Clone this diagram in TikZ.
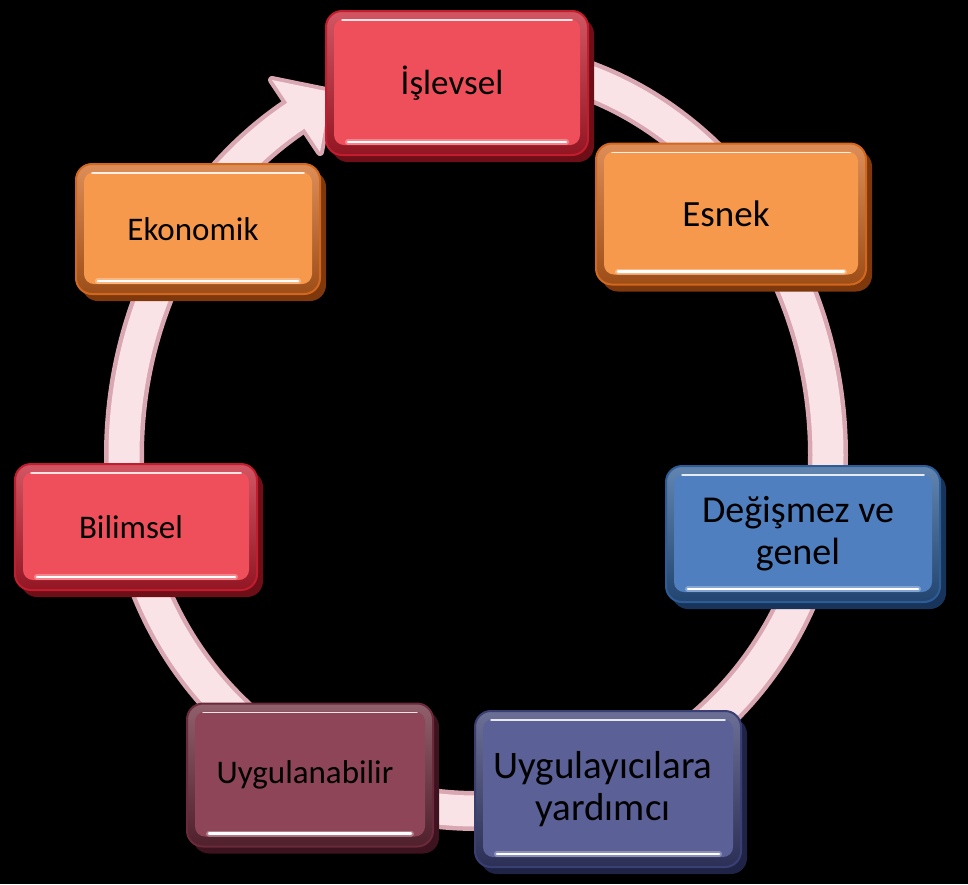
\documentclass[tikz,border=0pt]{standalone}
\usepackage{fontspec}
\setmainfont{Carlito}
\definecolor{ringedge}{HTML}{D9A7B1}
\definecolor{ringface}{HTML}{FAE3E6}
\definecolor{redface}{HTML}{EF4F5A}
\definecolor{rededge}{HTML}{C21D2E}
\definecolor{reddark}{HTML}{6E0E16}
\definecolor{orgface}{HTML}{F7994C}
\definecolor{orgedge}{HTML}{D2671F}
\definecolor{orgdark}{HTML}{7E380C}
\definecolor{bluface}{HTML}{4F7FBE}
\definecolor{bluedge}{HTML}{2E5C96}
\definecolor{bludark}{HTML}{18345A}
\definecolor{mauface}{HTML}{8D4557}
\definecolor{mauedge}{HTML}{6A2A3B}
\definecolor{maudark}{HTML}{3C131E}
\definecolor{navface}{HTML}{5B6197}
\definecolor{navedge}{HTML}{3A3F73}
\definecolor{navdark}{HTML}{1F2346}
\tikzset{
  boxbase/.style={rounded corners=16pt, line width=2pt, inner sep=0pt, outer sep=0pt},
  boxtext/.style={align=center, text=black, inner sep=0pt}
}
\newcommand\bevbox[8]{%
  \fill[#6dark, rounded corners=16pt] ({#2-#4/2+6},{#3-#5/2+7}) rectangle ({#2+#4/2+6},{#3+#5/2+7});
  \node[boxbase, draw=#6edge, top color=#6edge!75!white, bottom color=#6edge!75!black,
        minimum width=#4pt, minimum height=#5pt] (#1) at (#2,#3) {};
  \fill[#6face, rounded corners=10pt] ([shift={(8,8)}]#1.north west) rectangle ([shift={(-8,-10)}]#1.south east);
  \draw[white, line width=1.5pt, line cap=round, opacity=.85] ([shift={(16,9)}]#1.north west) -- ([shift={(-16,9)}]#1.north east);
  \draw[white, line width=6pt, opacity=.3, line cap=round] ([shift={(22,-13)}]#1.south west) -- ([shift={(-22,-13)}]#1.south east);
  \draw[white, line width=2.5pt, line cap=round] ([shift={(22,-13)}]#1.south west) -- ([shift={(-22,-13)}]#1.south east);
  \node[boxtext, font=#7] (#1t) at ([xshift=-5]#1.center) {#8};
}
\begin{document}
\begin{tikzpicture}[x=1pt, y=-1pt]
\fill[black] (0,0) rectangle (968,884);
\useasboundingbox (0,0) rectangle (968,884);
% ring outer
\draw[ringedge, line width=40pt, line join=round]
  plot[domain=-82:0, samples=40, smooth] ({476+352*cos(\x)},{455+395*sin(\x)})
  -- plot[domain=0:180, samples=80, smooth] ({476+352*cos(\x)},{455+356*sin(\x)})
  -- plot[domain=180:239.2, samples=30, smooth] ({476+352*cos(\x)},{455+395*sin(\x)});
\filldraw[ringedge, line width=8pt, line join=round] (272,80) -- (331,92) -- (320,152) -- cycle;
% ring inner
\draw[ringface, line width=31pt, line join=round]
  plot[domain=-82:0, samples=40, smooth] ({476+352*cos(\x)},{455+395*sin(\x)})
  -- plot[domain=0:180, samples=80, smooth] ({476+352*cos(\x)},{455+356*sin(\x)})
  -- plot[domain=180:240, samples=30, smooth] ({476+352*cos(\x)},{455+395*sin(\x)});
\fill[ringface] (272,80) -- (331,92) -- (320,152) -- cycle;
% boxes
\bevbox{isl}{457}{83}{262}{144}{red}{\fontsize{35}{40}\selectfont}{İşlevsel}
\bevbox{esn}{731}{214}{270}{141}{org}{\fontsize{37}{42}\selectfont}{Esnek}
\bevbox{eko}{198}{229}{244}{130}{org}{\fontsize{33}{40}\selectfont}{Ekonomik}
\bevbox{bil}{136}{527}{242}{126}{red}{\fontsize{33}{40}\selectfont}{Bilimsel}
\bevbox{deg}{803}{534}{274}{136}{blu}{\fontsize{38}{42}\selectfont}{Değişmez ve\\genel}
\bevbox{uyg}{310}{775}{246}{143}{mau}{\fontsize{33}{40}\selectfont}{Uygulanabilir}
\bevbox{yar}{608}{789}{266}{156}{nav}{\fontsize{39}{42}\selectfont}{Uygulayıcılara\\yardımcı}
\end{tikzpicture}
\end{document}
